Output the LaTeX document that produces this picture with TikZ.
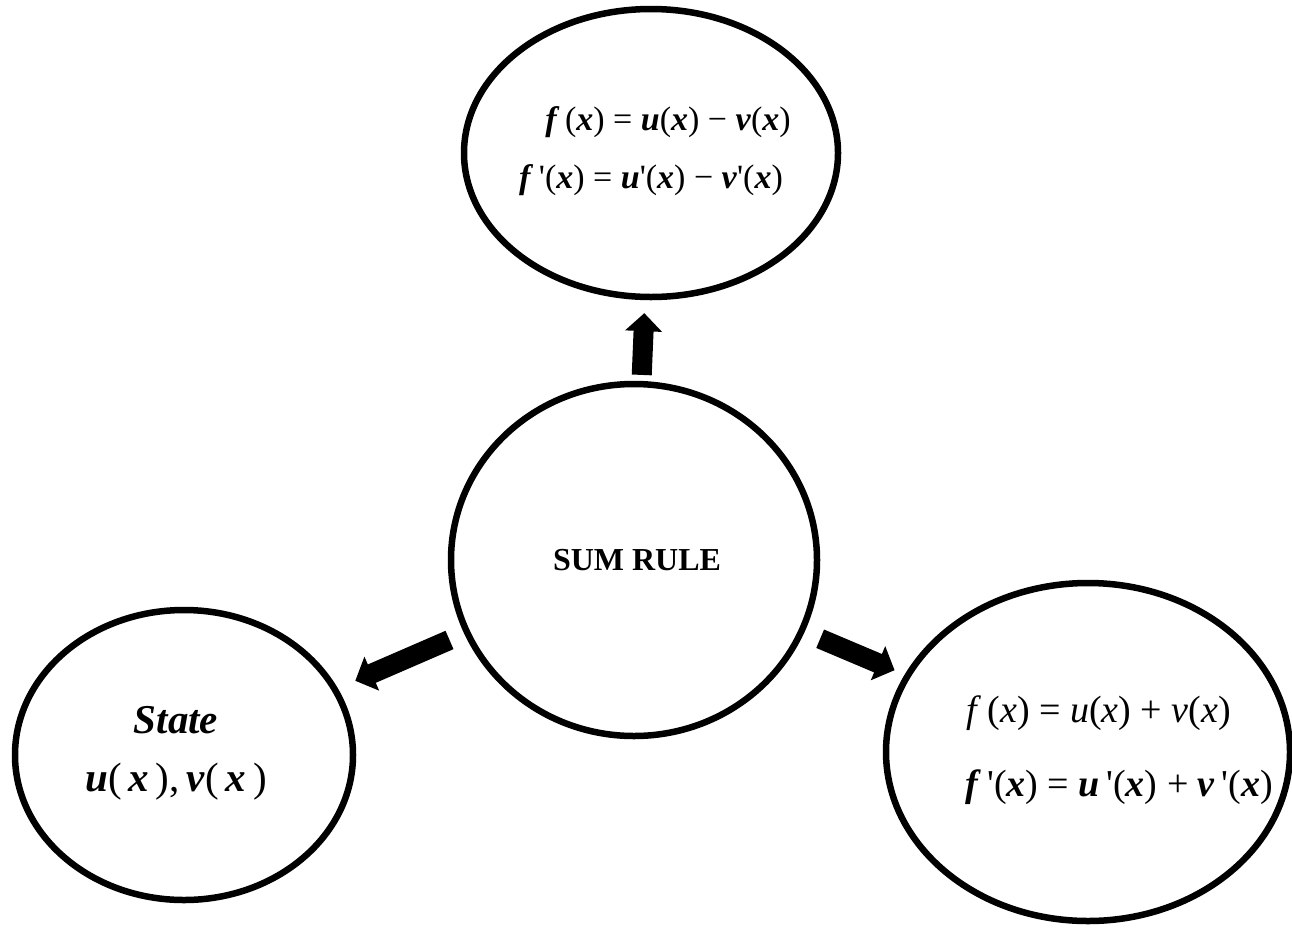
\documentclass[tikz,border=0pt]{standalone}
\usepackage{fontspec}
\setmainfont{Liberation Serif}
\usetikzlibrary{arrows.meta,shapes.geometric}
\newcommand{\bi}[1]{\textbf{\textit{#1}}}
\newcommand{\ti}[1]{\textit{#1}}
\newcommand{\pr}{{\upshape\mdseries\textquotesingle}}

\begin{document}
\begin{tikzpicture}[x=1pt, y=-1pt,
    bubble/.style={draw, ellipse, line width=6.5pt, inner sep=0pt},
    eqn/.style={inner sep=0pt, font=\fontsize{34}{40}\selectfont},
    big/.style={inner sep=0pt, font=\fontsize{38}{44}\selectfont},
    fat/.style={line width=20pt, -{Triangle[width=36pt,length=18pt]}}]
  \useasboundingbox (0,0) rectangle (1292,927);
  \node[bubble, minimum width=366pt, minimum height=352pt] (sum) at (634,560) {};
  \node[bubble, minimum width=374pt, minimum height=288pt] (diff) at (651,153) {};
  \node[bubble, minimum width=338pt, minimum height=290pt] (state) at (184,755) {};
  \node[bubble, minimum width=404pt, minimum height=338pt] (plus) at (1088,752) {};
  \node[inner sep=0pt, font=\fontsize{32}{38}\selectfont\bfseries] (sumText) at (637,560) {SUM RULE};
  \node[eqn] (diffEqA) at (668,122) {\bi{f}\,(\bi{x}) = \bi{u}(\bi{x}) − \bi{v}(\bi{x})};
  \node[eqn] (diffEqB) at (651,180) {\bi{f}\,\pr(\bi{x}) = \bi{u}\pr(\bi{x}) − \bi{v}\pr(\bi{x})};
  \node[inner sep=0pt, font=\fontsize{41}{48}\selectfont] (stateName) at (176,720) {\bi{State}};
  \node[inner sep=0pt, font=\fontsize{41}{48}\selectfont] (stateEq) at (176,782) {\bi{u}(\,\bi{x}\,),\,\bi{v}(\,\bi{x}\,)};
  \node[big, anchor=west] (plusEqA) at (966,713) {\ti{f}\,(\ti{x}) = \ti{u}(\ti{x}) + \ti{v}(\ti{x})};
  \node[big, anchor=west] (plusEqB) at (965,787) {\bi{f}\,\pr(\bi{x}) = \bi{u}\,\pr(\bi{x}) + \bi{v}\,\pr(\bi{x})};
  \draw[fat, shorten <=6pt, shorten >=13pt] (sum) -- (diff);
  \draw[fat, shorten <=16pt, shorten >=19pt] (sum) -- (state);
  \draw[fat, shorten <=17pt, shorten >=11pt] (sum) -- (plus);
\end{tikzpicture}
\end{document}
